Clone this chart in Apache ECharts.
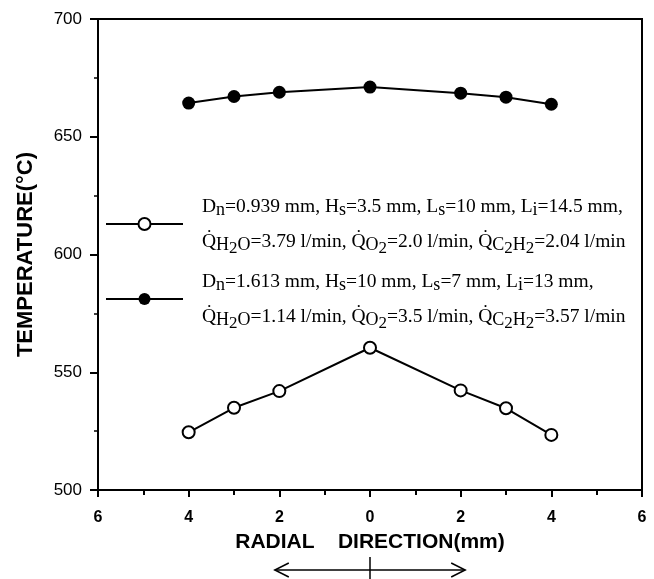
<!DOCTYPE html>
<html>
<head>
<meta charset="utf-8">
<script src="https://cdn.jsdelivr.net/npm/echarts@6/dist/echarts.min.js"></script>
<style>
html,body{margin:0;padding:0;background:#fff;}
#main{width:654px;height:579px;}
</style>
</head>
<body>
<div id="main"></div>
<script>
// radial position (mm), left side negative
var radial = [-4, -3, -2, 0, 2, 3, 4];
var tempOpen = [524.5, 534.9, 542.0, 560.4, 542.3, 534.7, 523.4];
var tempFilled = [664.3, 667.1, 668.9, 671.1, 668.5, 666.8, 663.8];
var yTicks = [500, 550, 600, 650, 700];
var seriesNames = ['open', 'filled'];
// legend text, rich format: {s|} subscript, {ss|} second level subscript
var legendOpen = [
	'{t|D}{s|n}{t|=0.939 mm, H}{s|s}{t|=3.5 mm, L}{s|s}{t|=10 mm, L}{s|i}{t|=14.5 mm,}',
	'{t|Q\u0307}{s|H}{ss|2}{s|O}{t|=3.79 l/min, Q\u0307}{s|O}{ss|2}{t|=2.0 l/min, Q\u0307}{s|C}{ss|2}{s|H}{ss|2}{t|=2.04 l/min}'
];
var legendFilled = [
	'{t|D}{s|n}{t|=1.613 mm, H}{s|s}{t|=10 mm, L}{s|s}{t|=7 mm, L}{s|i}{t|=13 mm,}',
	'{t|Q\u0307}{s|H}{ss|2}{s|O}{t|=1.14 l/min, Q\u0307}{s|O}{ss|2}{t|=3.5 l/min, Q\u0307}{s|C}{ss|2}{s|H}{ss|2}{t|=3.57 l/min}'
];

function toPairs(xs, ys) {
	var d = [];
	for (var i = 0; i < xs.length; i++) {
		d.push([xs[i], ys[i]]);
	}
	return d;
}

var chart = echarts.init(document.getElementById('main'));
var sansFont = '"Liberation Sans", Arial, sans-serif';
var serifFont = '"Liberation Serif", "Times New Roman", serif';

var option = {
	backgroundColor: '#fff',
	animation: false,
	grid: {
		left: 98, right: 12, top: 19, bottom: 89,
		show: true, borderColor: '#000', borderWidth: 2
	},
	legend: {
		orient: 'vertical',
		left: 105,
		top: 189,
		padding: 0,
		itemGap: 5,
		itemWidth: 77,
		itemHeight: 15,
		data: seriesNames,
		formatter: function (name) {
			return name == 'open' ? legendOpen.join('\n') : legendFilled.join('\n');
		},
		textStyle: {
			padding: [0, 0, 0, 14],
			lineHeight: 35,
			rich: {
				t: {fontFamily: serifFont, fontSize: 19.5, color: '#000', lineHeight: 35, verticalAlign: 'middle'},
				s: {fontFamily: serifFont, fontSize: 18, color: '#000', lineHeight: 35, verticalAlign: 'middle', padding: [7, 0, 0, 0]},
				ss: {fontFamily: serifFont, fontSize: 17, color: '#000', lineHeight: 35, verticalAlign: 'middle', padding: [15, 0, 0, 0]}
			}
		}
	},
	xAxis: {
		type: 'value',
		min: -6, max: 6, interval: 2,
		name: 'RADIAL    DIRECTION(mm)',
		nameLocation: 'middle',
		nameGap: 42,
		nameTextStyle: {fontFamily: sansFont, fontSize: 21, fontWeight: 'bold', color: '#000'},
		axisLine: {onZero: false, lineStyle: {color: '#000', width: 2}},
		axisTick: {length: 7, lineStyle: {color: '#000', width: 2}},
		minorTick: {show: true, splitNumber: 2, length: 5, lineStyle: {color: '#000', width: 2}},
		axisLabel: {
			margin: 20,
			fontFamily: sansFont, fontSize: 16, fontWeight: 'bold', color: '#000',
			formatter: function (v) { return Math.abs(v); }
		},
		splitLine: {show: false}
	},
	yAxis: {
		type: 'value',
		min: yTicks[0], max: yTicks[yTicks.length - 1], interval: 50,
		name: 'TEMPERATURE(°C)',
		nameLocation: 'middle',
		nameGap: 61,
		nameTextStyle: {fontFamily: sansFont, fontSize: 22, fontWeight: 'bold', color: '#000'},
		axisLine: {onZero: false, lineStyle: {color: '#000', width: 2}},
		axisTick: {length: 8, lineStyle: {color: '#000', width: 2}},
		minorTick: {show: true, splitNumber: 2, length: 4, lineStyle: {color: '#000', width: 1.5}},
		axisLabel: {margin: 16, fontFamily: sansFont, fontSize: 17, color: '#000'},
		splitLine: {show: false}
	},
	series: [{
		name: 'open',
		type: 'line',
		data: toPairs(radial, tempOpen),
		symbol: 'emptyCircle',
		symbolSize: 12,
		color: '#000',
		itemStyle: {color: '#000', borderWidth: 2},
		lineStyle: {color: '#000', width: 2}
	}, {
		name: 'filled',
		type: 'line',
		data: toPairs(radial, tempFilled),
		symbol: 'circle',
		symbolSize: 13,
		color: '#000',
		itemStyle: {color: '#000'},
		lineStyle: {color: '#000', width: 2}
	}]
};
chart.setOption(option);

// double arrow under axis title, spans about -2.1 .. 2.1 mm
var ax1 = chart.convertToPixel({xAxisIndex: 0}, -2.1);
var ax2 = chart.convertToPixel({xAxisIndex: 0}, 2.1);
var ax0 = chart.convertToPixel({xAxisIndex: 0}, 0);
var ay = 570;
var arrowStyle = {stroke: '#000', lineWidth: 1.5, fill: null};
chart.setOption({
	graphic: [
		{type: 'line', shape: {x1: ax1, y1: ay, x2: ax2, y2: ay}, style: arrowStyle},
		{type: 'polyline', shape: {points: [[ax1 + 14, ay - 7], [ax1, ay], [ax1 + 14, ay + 7]]}, style: arrowStyle},
		{type: 'polyline', shape: {points: [[ax2 - 14, ay - 7], [ax2, ay], [ax2 - 14, ay + 7]]}, style: arrowStyle},
		{type: 'line', shape: {x1: ax0, y1: 557, x2: ax0, y2: 579}, style: arrowStyle}
	]
});
</script>
</body>
</html>
